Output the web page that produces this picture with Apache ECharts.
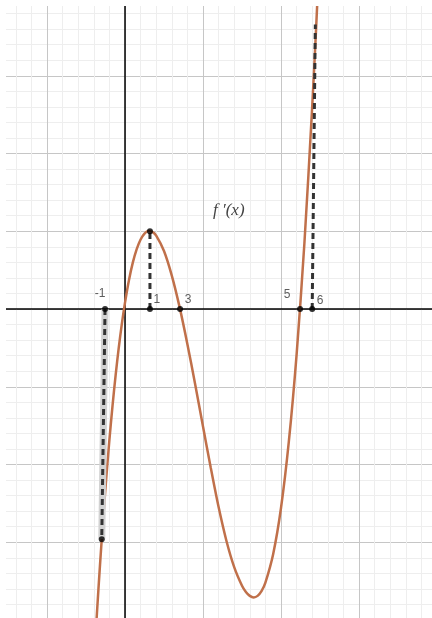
<!DOCTYPE html>
<html>
<head>
<meta charset="utf-8">
<script src="https://cdn.jsdelivr.net/npm/echarts@6/dist/echarts.min.js"></script>
<style>
  html, body { margin: 0; padding: 0; background: #fff; }
  #chart { width: 432px; height: 618px; }
</style>
</head>
<body>
<div id="chart"></div>
<script>
// Graph of f'(x), one grid unit = one minor cell
const curveX = [-1.9, -1.8, -1.6, -1.4, -1.2, -1.0, -0.8, -0.6, -0.4, -0.2, 0, 0.25, 0.5, 0.75, 1.0, 1.25, 1.5, 1.75, 2.0, 2.5, 3.0, 3.5, 4.0, 4.5, 5.0, 5.5, 6.0, 6.5, 7.0, 7.5, 7.75, 8.0, 8.25, 8.5, 8.75, 9.0, 9.5, 10.0, 10.5, 11.0, 11.5, 12.0, 12.25, 12.5];
const curveY = [-21.26, -19.58, -16.42, -13.51, -10.85, -8.42, -6.23, -4.25, -2.49, -0.94, 0.41, 1.84, 2.98, 3.85, 4.47, 4.85, 5.01, 4.96, 4.72, 3.73, 2.15, 0.12, -2.26, -4.86, -7.55, -10.22, -12.74, -14.9, -16.6, -17.8, -18.2, -18.45, -18.55, -18.45, -18.15, -17.6, -15.75, -12.8, -8.55, -2.93, 4.23, 13.01, 18.04, 23.52];

// Labelled points on the x-axis
const axisPointX = [-1.28, 1.6, 3.53, 11.22, 12.0];
const axisPointLabels = ['-1', '1', '3', '5', '6'];

// Dashed guides: from axis point (by index) up/down to the curve
const guideFrom = [0, 1, 4];
const guideToX = [-1.49, 1.6, 12.2];
const guideToY = [-14.8, 5.0, 18.3];

// Dots drawn on the curve
const curveDotX = [-1.49, 1.6];
const curveDotY = [-14.8, 5.0];

// Label offsets (px) relative to each axis point
const labelOffsets = [[-5, -15], [7, -9], [8, -9], [-13, -14], [8, -8]];

const curveColor = '#c0704a';
const guideColor = '#333';

const chart = echarts.init(document.getElementById('chart'));

const guideSeries = [];
guideFrom.forEach((idx, i) => {
  const seg = [[axisPointX[idx], 0], [guideToX[i], guideToY[i]]];
  if (i === 0) {
    guideSeries.push({
      type: 'line', data: seg, showSymbol: false, silent: true, z: 3,
      lineStyle: { color: '#d2d2d2', width: 7 }
    });
  }
  guideSeries.push({
    type: 'line', data: seg, showSymbol: false, silent: true, z: 4,
    lineStyle: { color: guideColor, width: 3, type: [6, 4] }
  });
});

const option = {
  animation: false,
  backgroundColor: '#fff',
  grid: { left: -31, right: -5, top: -2, bottom: -2, outerBoundsMode: 'none', containLabel: false },
  xAxis: {
    type: 'value', min: -10, max: 20, interval: 5,
    axisLine: { onZero: true, lineStyle: { color: '#000', width: 1.5 } },
    axisTick: { show: false }, axisLabel: { show: false },
    splitLine: { show: true, lineStyle: { color: '#c6c6c6', width: 1 } },
    minorTick: { show: false, splitNumber: 5 },
    minorSplitLine: { show: true, lineStyle: { color: '#eeeeee', width: 1 } }
  },
  yAxis: {
    type: 'value', min: -20, max: 20, interval: 5,
    axisLine: { onZero: true, lineStyle: { color: '#000', width: 1.5 } },
    axisTick: { show: false }, axisLabel: { show: false },
    splitLine: { show: true, lineStyle: { color: '#c6c6c6', width: 1 } },
    minorTick: { show: false, splitNumber: 5 },
    minorSplitLine: { show: true, lineStyle: { color: '#eeeeee', width: 1 } }
  },
  graphic: [
    { type: 'rect', left: 0, top: 0, shape: { width: 6, height: 618 }, style: { fill: '#fff' }, z: 100 },
    { type: 'rect', left: 0, top: 0, shape: { width: 432, height: 6 }, style: { fill: '#fff' }, z: 100 },
    {
      type: 'text', left: 213, top: 202, z: 50,
      style: {
        text: "f ′(x)",
        font: 'italic 17px "Liberation Serif", "DejaVu Serif", serif',
        fill: '#444'
      }
    }
  ],
  series: [
    {
      type: 'line', name: "f'(x)",
      data: curveX.map((x, i) => [x, curveY[i]]),
      smooth: 0.3, showSymbol: false, z: 2,
      lineStyle: { color: curveColor, width: 2.5 }
    },
    ...guideSeries,
    {
      type: 'scatter', z: 6, symbolSize: 6,
      itemStyle: { color: '#000' },
      data: curveDotX.map((x, i) => [x, curveDotY[i]])
    },
    {
      type: 'scatter', z: 6, symbolSize: 6,
      itemStyle: { color: '#000' },
      label: {
        show: true, position: 'inside',
        color: '#333', fontSize: 12,
        fontFamily: '"Liberation Sans", Arial, sans-serif',
        formatter: p => axisPointLabels[p.dataIndex]
      },
      data: axisPointX.map((x, i) => ({ value: [x, 0], label: { offset: labelOffsets[i] } }))
    }
  ]
};

chart.setOption(option);
</script>
</body>
</html>
